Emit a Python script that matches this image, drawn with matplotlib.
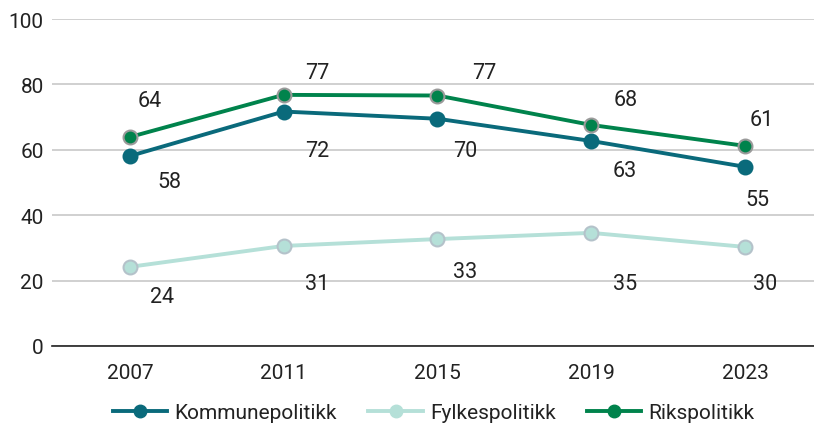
import matplotlib
matplotlib.use("Agg")
import matplotlib.pyplot as plt
from matplotlib.lines import Line2D

plt.rcParams['font.family'] = ['Roboto', 'DejaVu Sans']

years = ["2007", "2011", "2015", "2019", "2023"]
kommune = [58.1, 71.7, 69.5, 62.7, 54.8]
fylke = [24.2, 30.6, 32.7, 34.6, 30.3]
riks = [63.9, 76.8, 76.6, 67.6, 61.2]

series_names = ["Kommunepolitikk", "Fylkespolitikk", "Rikspolitikk"]
colors = ["#0a6a7b", "#b5e0d8", "#00834c"]
edge_colors = ["#0a6a7b", "#b4c2ca", "#9a9a9a"]

# label offsets in pixels (dx, dy) for each series
off_kommune = [(40, -25), (34, -39), (28, -32), (34, -30), (12, -33)]
off_fylke = [(32, -30), (34, -38), (28, -32), (34, -51), (20, -37)]
off_riks = [(20, 37), (34, 22), (47, 23), (34, 25), (17, 26)]

fig = plt.figure(figsize=(8.14, 4.27), dpi=100)
ax = fig.add_axes([52/814, 1-347/427, (815-52)/814, (347-20)/427])

x = list(range(len(years)))
data = [kommune, fylke, riks]
offsets = [off_kommune, off_fylke, off_riks]

for vals, c, ec, offs in zip(data, colors, edge_colors, offsets):
    ax.plot(x, vals, color=c, lw=2.8, marker='o', ms=10, mfc=c, mec=ec, mew=1.5,
            solid_capstyle='round', zorder=3)
    for xi, v, (dx, dy) in zip(x, vals, offs):
        ax.annotate(f"{round(v)}", (xi, v), xytext=(dx, dy), textcoords='offset pixels',
                    ha='center', va='center', fontsize=15.5, color='#222222')

ax.set_xlim(-0.506, 4.455)
ax.set_ylim(0, 100)
ax.set_yticks([0, 20, 40, 60, 80, 100])
ax.set_xticks(x)
ax.set_xticklabels(years)
ax.grid(axis='y', color='#c8c8c8', lw=1.2, zorder=0)
ax.set_axisbelow(True)
for s in ['top', 'right', 'left']:
    ax.spines[s].set_visible(False)
ax.spines['bottom'].set_color('#222222')
ax.spines['bottom'].set_linewidth(1.2)
ax.spines['bottom'].set_zorder(2)
ax.tick_params(axis='both', length=0, labelsize=15, colors='#222222')
ax.tick_params(axis='y', pad=6)
ax.tick_params(axis='x', pad=12)

handles = [Line2D([0], [0], color=c, lw=2.8, marker='o', ms=9, mfc=c, mec=c)
           for c in colors]
fig.legend(handles, series_names, loc='center', bbox_to_anchor=(0.533, 1-414/427),
           ncol=3, frameon=False, fontsize=15, handlelength=2.6, columnspacing=1.5,
           handletextpad=0.35, labelcolor='#222222')

fig.savefig("out.png", dpi=100)
